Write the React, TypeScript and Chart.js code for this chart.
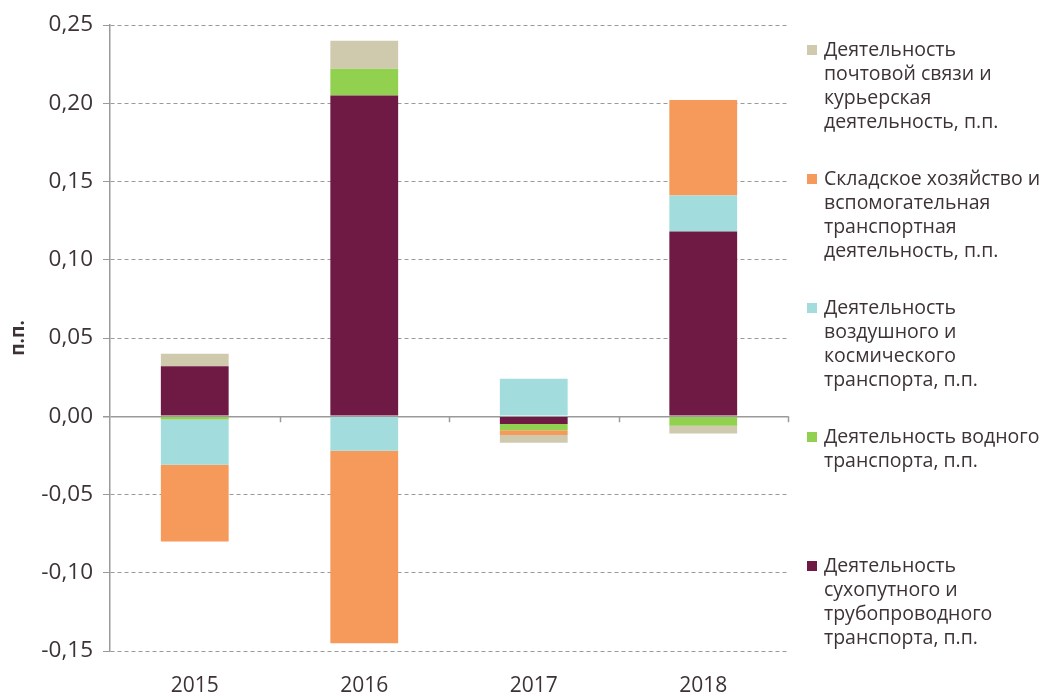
import React, { useEffect, useRef } from 'react';
import { Chart, registerables } from 'chart.js';
Chart.register(...registerables);

const categories = ['2015', '2016', '2017', '2018'];
const landPipeline = [0.032, 0.205, -0.005, 0.118];
const water = [-0.002, 0.017, -0.004, -0.006];
const airSpace = [-0.029, -0.022, 0.024, 0.023];
const warehousing = [-0.049, -0.123, -0.003, 0.061];
const postal = [0.008, 0.018, -0.005, -0.005];

const labelLand = ['Деятельность', 'сухопутного и', 'трубопроводного', 'транспорта, п.п.'];
const labelWater = ['Деятельность водного', 'транспорта, п.п.'];
const labelAir = ['Деятельность', 'воздушного и', 'космического', 'транспорта, п.п.'];
const labelWarehouse = ['Складское хозяйство и', 'вспомогательная', 'транспортная', 'деятельность, п.п.'];
const labelPostal = ['Деятельность', 'почтовой связи и', 'курьерская', 'деятельность, п.п.'];

const yTicksMin = -0.15;
const yTicksMax = 0.25;
const yStep = 0.05;
const yTitle = 'п.п.';

const FONT = "'Open Sans', 'DejaVu Sans', sans-serif";
const TEXT = '#3d3236';
const GRID = '#9a9a9a';

const sideLegend = {
  id: 'sideLegend',
  afterDraw(chart: any) {
    const ctx = chart.ctx;
    const area = chart.chartArea;
    const order = [4, 3, 2, 1, 0];
    ctx.save();
    order.forEach((di, k) => {
      const ds = chart.data.datasets[di];
      const y0 = area.top + 25 + k * 129;
      ctx.fillStyle = ds.backgroundColor;
      ctx.fillRect(area.right + 19, y0 - 5, 10, 10);
      ctx.fillStyle = TEXT;
      ctx.font = `19.5px ${FONT}`;
      ctx.textBaseline = 'middle';
      ctx.textAlign = 'left';
      (ds.legendLines as string[]).forEach((line, j) => {
        ctx.fillText(line, area.right + 36, y0 + j * 24);
      });
    });
    // tick marks on the zero line at category boundaries
    const x = chart.scales.x;
    const y = chart.scales.y;
    const zy = y.getPixelForValue(0);
    ctx.strokeStyle = GRID;
    ctx.lineWidth = 1.5;
    const n = categories.length;
    for (let i = 1; i <= n; i++) {
      const px = Math.round(x.left + (i * (x.right - x.left)) / n) + 0.5;
      ctx.beginPath();
      ctx.moveTo(px, zy);
      ctx.lineTo(px, zy + 6);
      ctx.stroke();
    }
    ctx.restore();
  },
};

export default function App() {
  const ref = useRef<HTMLCanvasElement>(null);
  useEffect(() => {
    const mk = (label: string[], data: number[], color: string) => ({
      label: label.join(' '),
      legendLines: label,
      data,
      backgroundColor: color,
      borderWidth: 0,
      barPercentage: 0.8,
      categoryPercentage: 0.5,
    });
    const chart = new Chart(ref.current as HTMLCanvasElement, {
      type: 'bar',
      data: {
        labels: categories,
        datasets: [
          mk(labelLand, landPipeline, '#6e1a45'),
          mk(labelWater, water, '#92d050'),
          mk(labelAir, airSpace, '#a3dcdd'),
          mk(labelWarehouse, warehousing, '#f69a5b'),
          mk(labelPostal, postal, '#cfcaad'),
        ] as any,
      },
      options: {
        responsive: false,
        animation: false,
        layout: { padding: { left: 0, right: 253, top: 25, bottom: 0 } },
        plugins: { legend: { display: false }, tooltip: { enabled: false } },
        scales: {
          x: {
            stacked: true,
            grid: { display: false, drawTicks: false },
            border: { display: false },
            ticks: { color: TEXT, font: { family: FONT, size: 21 }, padding: 22 },
            afterFit: (s: any) => { s.height = 42; },
          },
          y: {
            stacked: true,
            min: yTicksMin,
            max: yTicksMax,
            grid: {
              color: GRID,
              lineWidth: (c: any) => (c.tick && c.tick.value === 0 ? 1.5 : 1),
              tickColor: GRID,
              tickLength: 7,
              drawTicks: true,
            },
            border: {
              display: true,
              color: GRID,
              width: 1.5,
              dash: (c: any) => (!c.tick || Math.abs(c.tick.value) < 1e-9 ? [] : [4, 3]),
            },
            ticks: {
              stepSize: yStep,
              color: TEXT,
              font: { family: FONT, size: 22.5 },
              padding: 10,
              callback: (v: any) => Number(v).toFixed(2).replace('.', ','),
            },
            title: {
              display: true,
              text: yTitle,
              color: TEXT,
              font: { family: FONT, size: 19, weight: 'bold' },
              padding: { top: 7, bottom: 0 },
            },
            afterFit: (s: any) => { s.width = 110; },
          },
        },
      },
      plugins: [sideLegend],
    } as any);
    return () => chart.destroy();
  }, []);
  return (
    <div style={{ position: 'absolute', left: 0, top: 0, width: 1041, height: 693, background: '#fff' }}>
      <canvas ref={ref} width={1041} height={693} style={{ width: 1041, height: 693 }} />
    </div>
  );
}
